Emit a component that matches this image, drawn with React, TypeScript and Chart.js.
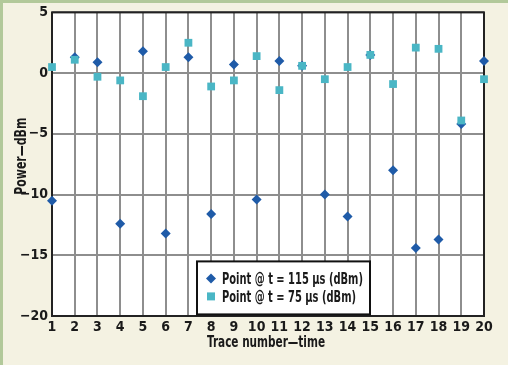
import React, { useEffect, useRef } from "react";
import { Chart, registerables } from "chart.js";

Chart.register(...registerables);

const traces = [1, 2, 3, 4, 5, 6, 7, 8, 9, 10, 11, 12, 13, 14, 15, 16, 17, 18, 19, 20];
const point115 = [-10.5, 1.3, 0.9, -12.4, 1.8, -13.2, 1.3, -11.6, 0.7, -10.4, 1.0, 0.6, -10.0, -11.8, 1.5, -8.0, -14.4, -13.7, -4.2, 1.0];
const point75 = [0.5, 1.1, -0.3, -0.6, -1.9, 0.5, 2.5, -1.1, -0.6, 1.4, -1.4, 0.6, -0.5, 0.5, 1.5, -0.9, 2.1, 2.0, -3.9, -0.5];
const yTicks = [5, 0, -5, -10, -15, -20];
const label115 = "Point @ t = 115 \u03bcs (dBm)";
const label75 = "Point @ t = 75 \u03bcs (dBm)";
const xTitle = "Trace number\u2014time";
const yTitle = "Power\u2014dBm";

const FONT = "'DejaVu Sans Condensed', 'DejaVu Sans', sans-serif";
const DARK = "#1f5ba8";
const LIGHT = "#4ab6c5";
const TEXT = "#1a1a1a";

function fitText(ctx: any, text: string, x: number, y: number, targetW: number, align: "left" | "center") {
  const w = ctx.measureText(text).width;
  const s = Math.min(1, targetW / w);
  ctx.save();
  ctx.translate(x, y);
  ctx.scale(s, 1);
  ctx.textAlign = align;
  ctx.fillText(text, 0, 0);
  ctx.restore();
}

const framePlugin = {
  id: "frame",
  beforeDraw(chart: any) {
    const { ctx, chartArea: a } = chart;
    ctx.save();
    ctx.fillStyle = "#ffffff";
    ctx.fillRect(a.left, a.top, a.right - a.left, a.bottom - a.top);
    ctx.restore();
  },
  beforeDatasetsDraw(chart: any) {
    const { ctx, chartArea: a } = chart;
    ctx.save();
    ctx.strokeStyle = "#222222";
    ctx.lineWidth = 2;
    ctx.strokeRect(a.left, a.top, a.right - a.left, a.bottom - a.top);
    ctx.restore();
  },
  afterDatasetsDraw(chart: any) {
    const { ctx, chartArea: a } = chart;
    // legend box
    const bx = a.left + 145;
    const by = a.top + 249;
    const bw = 173;
    const bh = 53;
    ctx.save();
    ctx.fillStyle = "#ffffff";
    ctx.fillRect(bx, by, bw, bh);
    ctx.strokeStyle = "#111111";
    ctx.lineWidth = 2;
    ctx.strokeRect(bx, by, bw, bh);
    const ds = chart.data.datasets;
    const rows = [
      { label: ds[0].label, color: ds[0].backgroundColor, style: "diamond", y: by + 17, w: 141 },
      { label: ds[1].label, color: ds[1].backgroundColor, style: "square", y: by + 35, w: 134 },
    ];
    ctx.font = `bold 16px ${FONT}`;
    ctx.textBaseline = "middle";
    for (const r of rows) {
      const mx = bx + 14;
      ctx.fillStyle = r.color;
      ctx.beginPath();
      if (r.style === "diamond") {
        ctx.moveTo(mx, r.y - 5);
        ctx.lineTo(mx + 5, r.y);
        ctx.lineTo(mx, r.y + 5);
        ctx.lineTo(mx - 5, r.y);
        ctx.closePath();
      } else {
        ctx.rect(mx - 4, r.y - 4, 8, 8);
      }
      ctx.fill();
      ctx.fillStyle = TEXT;
      fitText(ctx, r.label, bx + 25, r.y + 1, r.w, "left");
    }
    ctx.restore();
  },
  afterDraw(chart: any) {
    const { ctx, chartArea: a } = chart;
    ctx.save();
    ctx.fillStyle = TEXT;
    ctx.font = `bold 16px ${FONT}`;
    ctx.textBaseline = "middle";
    // x title
    fitText(ctx, xTitle, (a.left + a.right) / 2 - 2, a.bottom + 27, 118, "center");
    // y title
    ctx.save();
    ctx.translate(22, (a.top + a.bottom) / 2 - 8);
    ctx.rotate(-Math.PI / 2);
    fitText(ctx, yTitle, 0, 0, 77, "center");
    ctx.restore();
    ctx.restore();
  },
};

export default function App() {
  const ref = useRef<HTMLCanvasElement>(null);
  useEffect(() => {
    if (!ref.current) return;
    const chart = new Chart(ref.current, {
      type: "scatter",
      data: {
        datasets: [
          {
            label: label115,
            data: traces.map((t, i) => ({ x: t, y: point115[i] })),
            backgroundColor: DARK,
            borderColor: DARK,
            pointStyle: "rectRot",
            pointRadius: 5,
            borderWidth: 0,
            order: 2,
            clip: false,
          },
          {
            label: label75,
            data: traces.map((t, i) => ({ x: t, y: point75[i] })),
            backgroundColor: LIGHT,
            borderColor: LIGHT,
            pointStyle: "rect",
            pointRadius: 5.5,
            borderWidth: 0,
            order: 1,
            clip: false,
          },
        ],
      },
      options: {
        animation: false,
        responsive: true,
        maintainAspectRatio: false,
        layout: { padding: { top: 11, right: 24, left: 0, bottom: 0 } },
        plugins: { legend: { display: false }, tooltip: { enabled: false } },
        scales: {
          x: {
            type: "linear",
            min: 1,
            max: 20,
            afterBuildTicks: (s: any) => {
              s.ticks = traces.map((v) => ({ value: v }));
            },
            afterFit: (s: any) => {
              s.height = 49;
            },
            grid: { color: "#8e8e8e", lineWidth: 2, drawTicks: false },
            border: { display: false },
            ticks: {
              padding: 3,
              autoSkip: false,
              maxRotation: 0,
              color: TEXT,
              font: { family: FONT, size: 14, weight: "bold" },
            },
          },
          y: {
            type: "linear",
            min: -20,
            max: 5,
            afterBuildTicks: (s: any) => {
              s.ticks = yTicks.map((v) => ({ value: v }));
            },
            afterFit: (s: any) => {
              s.width = 52;
            },
            grid: { color: "#8e8e8e", lineWidth: 2, drawTicks: false },
            border: { display: false },
            ticks: {
              padding: 4,
              color: TEXT,
              font: { family: FONT, size: 14, weight: "bold" },
              callback: (v: any) => (Number(v) < 0 ? "\u2212" + Math.abs(Number(v)) : String(v)),
            },
          },
        },
      },
      plugins: [framePlugin],
    });
    return () => chart.destroy();
  }, []);
  return (
    <div
      style={{
        position: "fixed",
        left: 0,
        top: 0,
        width: 508,
        height: 365,
        background: "#f4f2e2",
        boxShadow: "inset 3px 3px 0 #b2c99a",
      }}
    >
      <canvas ref={ref} />
    </div>
  );
}
